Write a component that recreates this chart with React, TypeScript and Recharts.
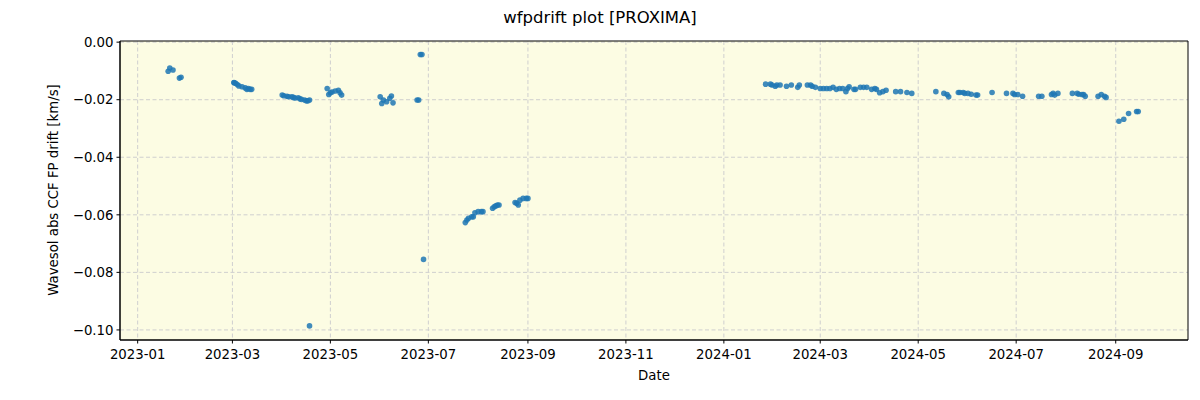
import React from "react";
import {
  ScatterChart,
  Scatter,
  XAxis,
  YAxis,
  CartesianGrid,
  ReferenceArea,
} from "recharts";

const dates: string[] = [
  "2023-01-20", "2023-01-21", "2023-01-23", "2023-01-27", "2023-01-28",
  "2023-03-02", "2023-03-02", "2023-03-03", "2023-03-04", "2023-03-05", "2023-03-07", "2023-03-09", "2023-03-10", "2023-03-11", "2023-03-12", "2023-03-13",
  "2023-04-01", "2023-04-02", "2023-04-04", "2023-04-05", "2023-04-07", "2023-04-08", "2023-04-09", "2023-04-11", "2023-04-12", "2023-04-13", "2023-04-15", "2023-04-16", "2023-04-17", "2023-04-18",
  "2023-04-18",
  "2023-04-29", "2023-04-30", "2023-05-01", "2023-05-02", "2023-05-04", "2023-05-06", "2023-05-07", "2023-05-08",
  "2023-06-01", "2023-06-02", "2023-06-03", "2023-06-05", "2023-06-07", "2023-06-08", "2023-06-09",
  "2023-06-24", "2023-06-25", "2023-06-26", "2023-06-27", "2023-06-28",
  "2023-07-24", "2023-07-25", "2023-07-26", "2023-07-28", "2023-07-29", "2023-07-30", "2023-08-01", "2023-08-03", "2023-08-04",
  "2023-08-10", "2023-08-11", "2023-08-12", "2023-08-13", "2023-08-14",
  "2023-08-24", "2023-08-25", "2023-08-26", "2023-08-27", "2023-08-29", "2023-08-31", "2023-09-01",
  "2024-01-27", "2024-01-30", "2024-01-31", "2024-02-02", "2024-02-03", "2024-02-05", "2024-02-09", "2024-02-12", "2024-02-16", "2024-02-17",
  "2024-02-22", "2024-02-24", "2024-02-25", "2024-02-27", "2024-03-01", "2024-03-03", "2024-03-05", "2024-03-07", "2024-03-09", "2024-03-11",
  "2024-03-13", "2024-03-15", "2024-03-17", "2024-03-18", "2024-03-19", "2024-03-22", "2024-03-23", "2024-03-26", "2024-03-28", "2024-03-30",
  "2024-04-02", "2024-04-04", "2024-04-05", "2024-04-07", "2024-04-09", "2024-04-11", "2024-04-17", "2024-04-20", "2024-04-24", "2024-04-27",
  "2024-05-12", "2024-05-17", "2024-05-19", "2024-05-20", "2024-05-26", "2024-05-27", "2024-05-29", "2024-05-30", "2024-06-01", "2024-06-03",
  "2024-06-06", "2024-06-07", "2024-06-16", "2024-06-25", "2024-06-29", "2024-06-30", "2024-07-02", "2024-07-05", "2024-07-15", "2024-07-17",
  "2024-07-23", "2024-07-24", "2024-07-25", "2024-07-27", "2024-08-05", "2024-08-08", "2024-08-09", "2024-08-11", "2024-08-12", "2024-08-13",
  "2024-08-21", "2024-08-23", "2024-08-25", "2024-08-26", "2024-09-03", "2024-09-06", "2024-09-09", "2024-09-14", "2024-09-15",
];

const drift: number[] = [
  -0.0101, -0.009, -0.0097, -0.0125, -0.0122,
  -0.014, -0.0141, -0.0143, -0.0147, -0.0152, -0.0155, -0.0159, -0.0164, -0.0161, -0.0164, -0.0164,
  -0.0184, -0.0186, -0.0188, -0.019, -0.019, -0.0192, -0.0194, -0.0193, -0.0197, -0.0199, -0.0201, -0.0204, -0.0204, -0.0201,
  -0.0986,
  -0.0161, -0.0182, -0.0176, -0.0173, -0.017, -0.0167, -0.0176, -0.0184,
  -0.019, -0.0213, -0.0201, -0.0207, -0.0195, -0.0187, -0.0211,
  -0.0201, -0.0201, -0.0043, -0.0043, -0.0755,
  -0.0627, -0.0618, -0.0612, -0.0607, -0.0607, -0.0593, -0.0589, -0.0589, -0.0589,
  -0.0577, -0.0572, -0.0569, -0.0566, -0.0566,
  -0.0557, -0.056, -0.0566, -0.0549, -0.0543, -0.0543, -0.0543,
  -0.0146, -0.0146, -0.0149, -0.0153, -0.0149, -0.0149, -0.0153, -0.0149, -0.0157, -0.0149,
  -0.0149, -0.0149, -0.0153, -0.0157, -0.0161, -0.0161, -0.0161, -0.0161, -0.0157, -0.0164,
  -0.0161, -0.0161, -0.0172, -0.0161, -0.0155, -0.0164, -0.0164, -0.0157, -0.0157, -0.0157,
  -0.0164, -0.0161, -0.0164, -0.0176, -0.0172, -0.0167, -0.0172, -0.0172, -0.0175, -0.0178,
  -0.0172, -0.0178, -0.0182, -0.019, -0.0175, -0.0175, -0.0175, -0.0178, -0.0178, -0.0181,
  -0.0184, -0.0184, -0.0175, -0.0178, -0.0178, -0.0182, -0.0182, -0.0188, -0.0188, -0.0188,
  -0.0182, -0.0178, -0.0184, -0.0178, -0.0178, -0.0178, -0.0181, -0.0182, -0.0182, -0.0188,
  -0.0188, -0.0182, -0.0188, -0.0192, -0.0275, -0.0268, -0.0248, -0.0241, -0.0241,
];

const xTickLabels: string[] = [
  "2023-01", "2023-03", "2023-05", "2023-07", "2023-09", "2023-11",
  "2024-01", "2024-03", "2024-05", "2024-07", "2024-09",
];
const yTicks: number[] = [0, -0.02, -0.04, -0.06, -0.08, -0.1];

const xDomainDates = ["2022-12-21", "2024-10-16"];
const yDomain: [number, number] = [-0.1035, 0.0004];

const data = dates.map((d, i) => ({ t: Date.parse(d), v: drift[i] }));
const xTicks = xTickLabels.map((l) => Date.parse(l + "-01"));
const xDomain: [number, number] = [Date.parse(xDomainDates[0]), Date.parse(xDomainDates[1])];

const FONT = "DejaVu Sans, sans-serif";

const fmtX = (t: number) => {
  const d = new Date(t);
  const m = d.getUTCMonth() + 1;
  return `${d.getUTCFullYear()}-${m < 10 ? "0" + m : m}`;
};
const fmtY = (v: number) => {
  const s = Math.abs(v).toFixed(2);
  return v < -1e-9 ? "\u2212" + s : s;
};

const Dot = (props: any) => {
  const { cx, cy } = props;
  if (cx == null || cy == null) return null;
  return <circle cx={cx} cy={cy} r={2.8} fill="#1f77b4" fillOpacity={0.85} />;
};

export default function App() {
  return (
    <div style={{ position: "absolute", left: 0, top: 0, width: 1200, height: 400, background: "#fff" }}>
      <ScatterChart
        width={1200}
        height={400}
        margin={{ top: 41, right: 12, bottom: 30, left: 50 }}
      >
        <CartesianGrid
          stroke="#cfcfcf"
          strokeDasharray="4 2.5"
          fill="#fcfce3"
          fillOpacity={1}
          horizontalValues={yTicks}
          verticalValues={xTicks}
        />
        <XAxis
          type="number"
          dataKey="t"
          domain={xDomain}
          ticks={xTicks}
          tickFormatter={fmtX}
          allowDataOverflow
          height={30}
          stroke="#000"
          tickSize={3.5}
          tick={{ fill: "#000", fontSize: 13.3, fontFamily: FONT, dy: 4.5 }}
          axisLine={{ stroke: "#000" }}
          tickLine={{ stroke: "#000" }}
        />
        <YAxis
          type="number"
          dataKey="v"
          domain={yDomain}
          ticks={yTicks}
          tickFormatter={fmtY}
          allowDataOverflow
          width={70}
          stroke="#000"
          tickSize={3.5}
          tick={{ fill: "#000", fontSize: 13.3, fontFamily: FONT, dx: -1 }}
          axisLine={{ stroke: "#000" }}
          tickLine={{ stroke: "#000" }}
        />
        <ReferenceArea
          x1={xDomain[0]}
          x2={xDomain[1]}
          y1={yDomain[0]}
          y2={yDomain[1]}
          fill="none"
          stroke="#000"
          strokeWidth={1}
          ifOverflow="visible"
        />
        <Scatter data={data} isAnimationActive={false} shape={<Dot />} />
      </ScatterChart>
      <svg
        width={1200}
        height={400}
        style={{ position: "absolute", left: 0, top: 0, pointerEvents: "none" }}
      >
        <text x={600} y={23} textAnchor="middle" fontSize={16.5} fontFamily={FONT} fill="#000">
          wfpdrift plot [PROXIMA]
        </text>
        <text x={654} y={380} textAnchor="middle" fontSize={13.3} fontFamily={FONT} fill="#000">
          Date
        </text>
        <text
          x={0}
          y={0}
          transform="translate(58,190) rotate(-90)"
          textAnchor="middle"
          fontSize={13.3}
          fontFamily={FONT}
          fill="#000"
        >
          Wavesol abs CCF FP drift [km/s]
        </text>
      </svg>
    </div>
  );
}
